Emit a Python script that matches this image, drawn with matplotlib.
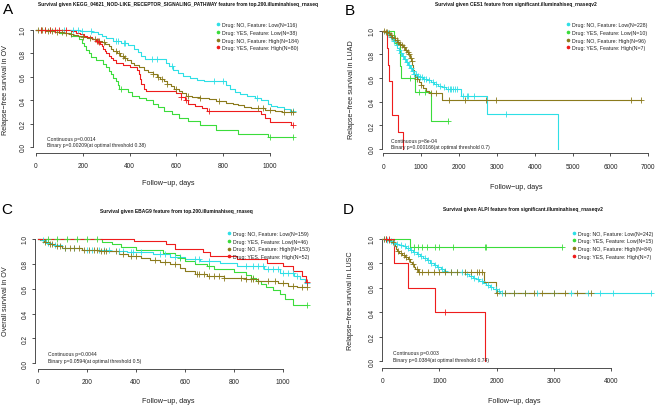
import numpy as np
import matplotlib
matplotlib.use("Agg")
import matplotlib.pyplot as plt
from matplotlib.lines import Line2D

plt.rcParams['font.family'] = ['Liberation Sans', 'DejaVu Sans']

W, H = 659, 406
COLORS = ["#2EDFE6", "#3BDC3B", "#8B7A1C", "#EE1C1C"]

# ---------------- Panel A data ----------------
A_cyan_t = [190, 240, 265, 280, 300, 330, 365, 395, 420, 435, 450, 465, 555, 570, 585, 605, 630, 660, 690, 720, 810, 830, 850, 870, 900, 935, 960, 990, 1005, 1030, 1060, 1085]
A_cyan_s = [0.99, 0.98, 0.965, 0.95, 0.93, 0.91, 0.89, 0.87, 0.84, 0.81, 0.78, 0.75, 0.72, 0.69, 0.66, 0.63, 0.61, 0.59, 0.575, 0.56, 0.53, 0.50, 0.47, 0.45, 0.44, 0.42, 0.40, 0.37, 0.35, 0.34, 0.325, 0.31]
A_cyan_c = [120, 160, 180, 195, 235, 340, 350, 375, 380, 495, 515, 580, 760, 800, 945, 1100]
A_green_t = [100, 150, 185, 195, 205, 215, 225, 235, 255, 285, 300, 310, 320, 330, 340, 350, 355, 395, 410, 440, 470, 500, 520, 545, 580, 610, 650, 700, 770, 865, 990]
A_green_s = [0.973, 0.946, 0.92, 0.89, 0.86, 0.83, 0.80, 0.77, 0.74, 0.71, 0.68, 0.65, 0.62, 0.59, 0.56, 0.53, 0.50, 0.47, 0.44, 0.42, 0.40, 0.37, 0.34, 0.31, 0.28, 0.25, 0.22, 0.19, 0.145, 0.115, 0.085]
A_green_c = [20, 40, 60, 365, 1000, 1100]
A_olive_t = [40, 60, 80, 100, 120, 140, 160, 180, 200, 220, 240, 260, 280, 295, 310, 320, 330, 345, 360, 375, 390, 405, 420, 440, 460, 480, 500, 515, 530, 545, 560, 575, 590, 610, 625, 640, 665, 700, 740, 770, 810, 840, 865, 890, 920, 980, 1020, 1050]
A_olive_s = [0.995, 0.99, 0.985, 0.98, 0.975, 0.97, 0.96, 0.95, 0.94, 0.93, 0.92, 0.91, 0.90, 0.88, 0.86, 0.84, 0.82, 0.80, 0.78, 0.76, 0.74, 0.72, 0.70, 0.68, 0.66, 0.64, 0.62, 0.60, 0.58, 0.56, 0.54, 0.52, 0.50, 0.48, 0.46, 0.44, 0.43, 0.42, 0.41, 0.39, 0.38, 0.37, 0.355, 0.34, 0.33, 0.32, 0.31, 0.30]
A_olive_c = [10, 25, 50, 70, 90, 110, 130, 150, 200, 230, 250, 265, 270, 290, 340, 355, 370, 380, 500, 520, 540, 560, 600, 650, 700, 780, 950, 970, 1000, 1060, 1090, 1100]
A_red_t = [150, 170, 190, 205, 220, 240, 255, 265, 275, 280, 285, 295, 300, 310, 320, 330, 340, 370, 400, 430, 440, 445, 450, 460, 470, 600, 620, 635, 650, 680, 710, 730, 960, 980, 1000, 1090]
A_red_s = [0.9875, 0.975, 0.9625, 0.95, 0.9375, 0.925, 0.91, 0.895, 0.88, 0.86, 0.84, 0.82, 0.80, 0.78, 0.76, 0.74, 0.72, 0.70, 0.68, 0.66, 0.62, 0.58, 0.54, 0.50, 0.48, 0.46, 0.43, 0.40, 0.37, 0.35, 0.33, 0.31, 0.28, 0.25, 0.21, 0.19]
A_red_c = [20, 40, 60, 80, 100, 130, 260, 270, 620, 640, 740, 1100]

# ---------------- Panel B data ----------------
B_cyan_t = [50, 90, 130, 170, 210, 250, 290, 330, 370, 410, 450, 500, 550, 600, 650, 700, 750, 800, 880, 960, 1050, 1150, 1250, 1350, 1450, 1550, 1650, 2050, 2750, 4620]
B_cyan_s = [0.99, 0.98, 0.965, 0.95, 0.935, 0.915, 0.895, 0.875, 0.855, 0.835, 0.81, 0.785, 0.76, 0.735, 0.71, 0.685, 0.66, 0.635, 0.62, 0.61, 0.595, 0.58, 0.565, 0.55, 0.535, 0.52, 0.505, 0.445, 0.297, 0.0]
B_cyan_c = [120, 200, 280, 350, 420, 480, 520, 560, 620, 680, 720, 780, 820, 870, 920, 980, 1020, 1080, 1120, 1200, 1300, 1400, 1500, 1600, 1700, 1750, 1800, 1850, 1900, 1950, 2100, 2200, 2250, 2400, 3250]
B_green_t = [270, 430, 445, 460, 850, 1250]
B_green_s = [0.9, 0.8, 0.7, 0.6, 0.48, 0.24]
B_green_c = [700, 950, 1100, 1700]
B_olive_t = [60, 120, 170, 220, 270, 320, 370, 420, 470, 520, 570, 620, 660, 700, 730, 760, 780, 800, 840, 880, 930, 990, 1050, 1120, 1200, 1550]
B_olive_s = [0.99, 0.98, 0.965, 0.95, 0.935, 0.92, 0.905, 0.89, 0.875, 0.86, 0.84, 0.82, 0.80, 0.77, 0.74, 0.71, 0.67, 0.63, 0.61, 0.59, 0.565, 0.54, 0.515, 0.49, 0.47, 0.41]
B_olive_c = [30, 80, 100, 150, 200, 240, 300, 350, 400, 450, 500, 550, 600, 640, 680, 720, 750, 900, 1000, 1250, 1400, 1735, 2150, 2700, 2970, 6540, 6820]
B_red_t = [90, 120, 150, 220, 400, 530]
B_red_s = [0.857, 0.714, 0.571, 0.286, 0.143, 0.0]
B_red_c = []

# ---------------- Panel C data ----------------
C_cyan_t = [15, 35, 60, 100, 180, 295, 363, 472, 540, 600, 663, 745, 814, 922, 990, 1045, 1070, 1090]
C_cyan_s = [0.99, 0.97, 0.955, 0.925, 0.915, 0.905, 0.893, 0.88, 0.855, 0.84, 0.826, 0.81, 0.785, 0.755, 0.725, 0.70, 0.68, 0.645]
C_cyan_c = [20, 40, 70, 110, 150, 200, 220, 250, 270, 290, 330, 350, 380, 390, 420, 500, 520, 560, 580, 640, 660, 700, 850, 880, 900, 920, 940, 960, 980, 1000, 1020, 1040, 1060, 1100]
C_green_t = [262, 302, 340, 400, 510, 560, 580, 600, 640, 690, 720, 800, 850, 870, 890, 910, 930, 960, 990, 1010, 1040]
C_green_s = [0.978, 0.957, 0.935, 0.913, 0.89, 0.868, 0.846, 0.824, 0.802, 0.78, 0.758, 0.735, 0.712, 0.688, 0.664, 0.64, 0.616, 0.592, 0.56, 0.52, 0.47]
C_green_c = [40, 80, 120, 160, 200, 240, 580, 700, 880, 1100]
C_olive_t = [10, 25, 45, 70, 100, 180, 250, 330, 370, 420, 460, 500, 540, 580, 600, 640, 690, 760, 850, 900, 980, 1020, 1060]
C_olive_s = [0.99, 0.975, 0.96, 0.945, 0.93, 0.915, 0.90, 0.88, 0.865, 0.85, 0.835, 0.815, 0.795, 0.765, 0.74, 0.72, 0.70, 0.685, 0.675, 0.665, 0.645, 0.625, 0.61]
C_olive_c = [30, 50, 60, 80, 90, 110, 130, 150, 170, 190, 210, 230, 240, 260, 270, 280, 320, 350, 380, 400, 480, 520, 560, 650, 660, 680, 700, 720, 740, 760, 830, 850, 870, 880, 900, 940, 970, 1000, 1040, 1080, 1100]
C_red_t = [395, 525, 560, 675, 705, 815, 935, 1000, 1040, 1080, 1095]
C_red_s = [0.98, 0.96, 0.92, 0.895, 0.86, 0.84, 0.81, 0.785, 0.745, 0.70, 0.655]
C_red_c = [1100]

# ---------------- Panel D data ----------------
D_cyan_t = [60, 120, 180, 240, 300, 360, 420, 480, 540, 600, 660, 720, 780, 840, 900, 960, 1020, 1080, 1140, 1450, 1520, 1580, 1640, 1700, 1760, 1820, 1880, 1940, 2000, 2060]
D_cyan_s = [0.99, 0.98, 0.97, 0.96, 0.95, 0.94, 0.925, 0.91, 0.895, 0.88, 0.865, 0.845, 0.825, 0.805, 0.785, 0.77, 0.755, 0.74, 0.728, 0.715, 0.70, 0.685, 0.67, 0.655, 0.64, 0.625, 0.61, 0.595, 0.578, 0.562]
D_cyan_c = [30, 90, 150, 200, 260, 330, 400, 450, 500, 560, 620, 680, 740, 800, 860, 920, 980, 1050, 1100, 1200, 1300, 1400, 1480, 1550, 1600, 1680, 1750, 1850, 1900, 1980, 2040, 2100, 2150, 2300, 2500, 2700, 3000, 3300, 3600, 3800, 4040, 4700]
D_green_t = [490]
D_green_s = [0.933]
D_green_c = [560, 630, 700, 780, 920, 1000, 1240, 1790, 1820, 3140]
D_olive_t = [80, 150, 200, 220, 240, 260, 300, 350, 400, 450, 490, 520, 550, 580, 620, 1780, 1980]
D_olive_s = [0.988, 0.976, 0.96, 0.94, 0.92, 0.90, 0.885, 0.87, 0.85, 0.835, 0.815, 0.795, 0.775, 0.755, 0.728, 0.646, 0.556]
D_olive_c = [30, 60, 120, 180, 270, 320, 380, 420, 470, 540, 600, 650, 700, 800, 900, 1000, 1100, 1200, 1300, 1450, 1550, 1650, 1700, 1750, 2000, 2150, 2300, 2500, 2650, 2800, 3000, 3200, 3400, 3650]
D_red_t = [200, 455, 920, 1790]
D_red_s = [0.80, 0.60, 0.40, 0.0]
D_red_c = [60, 120, 1100]

# ---------------- Text ----------------
titles = [
    "Survival given KEGG_04621_NOD-LIKE_RECEPTOR_SIGNALING_PATHWAY feature from top.200.illuminahiseq_rnaseq",
    "Survival given CES1 feature from significant.illuminahiseq_rnaseqv2",
    "Survival given EBAG9 feature from top.200.illuminahiseq_rnaseq",
    "Survival given ALPI feature from significant.illuminahiseq_rnaseqv2",
]
ylabels = ["Relapse\u2212free survival in OV", "Relapse\u2212free survival in LUAD",
           "Overall survival in OV", "Relapse\u2212free survival in LUSC"]
xlabel = "Follow\u2212up, days"
letters = ["A", "B", "C", "D"]
group_names = ["Drug: NO, Feature: Low", "Drug: YES, Feature: Low",
               "Drug: NO, Feature: High", "Drug: YES, Feature: High"]
A_n = [116, 38, 184, 80]
B_n = [228, 10, 96, 7]
C_n = [159, 46, 153, 52]
D_n = [242, 15, 84, 7]
A_p = ["Continuous p=0.0014", "Binary p=0.00209(at optimal threshold 0.38)"]
B_p = ["Continuous p=8e-04", "Binary p=0.000166(at optimal threshold 0.7)"]
C_p = ["Continuous p=0.0044", "Binary p=0.0594(at optimal threshold 0.5)"]
D_p = ["Continuous p=0.003", "Binary p=0.0384(at optimal threshold 0.74)"]
A_xticks = [0, 200, 400, 600, 800, 1000]
B_xticks = [0, 1000, 2000, 3000, 4000, 5000, 6000, 7000]
C_xticks = [0, 200, 400, 600, 800, 1000]
D_xticks = [0, 1000, 2000, 3000, 4000]
yticks = [0.0, 0.2, 0.4, 0.6, 0.8, 1.0]

panels = [
    dict(curves=[(A_cyan_t, A_cyan_s, A_cyan_c), (A_green_t, A_green_s, A_green_c),
                 (A_olive_t, A_olive_s, A_olive_c), (A_red_t, A_red_s, A_red_c)],
         n=A_n, p=A_p, xt=A_xticks,
         box=(33, 300, 24, 154), xmap=(36, 270, 1000), ymap=(31, 148),
         title=(178, 4.5), letter=(8, 10), ylab=(6, 90), xlab=(168, 184),
         leg=(219, 26.7, 6.9), ptxt=(46.7, 139.3, 6.4)),
    dict(curves=[(B_cyan_t, B_cyan_s, B_cyan_c), (B_green_t, B_green_s, B_green_c),
                 (B_olive_t, B_olive_s, B_olive_c), (B_red_t, B_red_s, B_red_c)],
         n=B_n, p=B_p, xt=B_xticks,
         box=(382.3, 656, 24, 154.3), xmap=(383.3, 648.3, 7000), ymap=(31.7, 150),
         title=(515.5, 4.5), letter=(350, 11), ylab=(351.7, 90), xlab=(516, 187.7),
         leg=(569, 26.7, 6.9), ptxt=(391, 141, 6.3)),
    dict(curves=[(C_cyan_t, C_cyan_s, C_cyan_c), (C_green_t, C_green_s, C_green_c),
                 (C_olive_t, C_olive_s, C_olive_c), (C_red_t, C_red_s, C_red_c)],
         n=C_n, p=C_p, xt=C_xticks,
         box=(35, 318, 232, 370), xmap=(37.7, 282.7, 1000), ymap=(240, 364.3),
         title=(176.7, 211.7), letter=(7, 210), ylab=(6, 301), xlab=(168, 401.7),
         leg=(230, 235.5, 7.2), ptxt=(48.3, 354.3, 7.4)),
    dict(curves=[(D_cyan_t, D_cyan_s, D_cyan_c), (D_green_t, D_green_s, D_green_c),
                 (D_olive_t, D_olive_s, D_olive_c), (D_red_t, D_red_s, D_red_c)],
         n=D_n, p=D_p, xt=D_xticks,
         box=(381.7, 656, 232, 369), xmap=(382.3, 611, 4000), ymap=(240, 362.3),
         title=(522.5, 209.5), letter=(348, 210.5), ylab=(350.7, 301), xlab=(514, 401.7),
         leg=(575, 235, 7.2), ptxt=(393.3, 353.3, 7.4)),
]


def fx(x):
    return x / W


def fy(y):
    return 1 - y / H


fig = plt.figure(figsize=(W / 100, H / 100), dpi=100)
fig.patch.set_facecolor("white")

AXCOL = "#333333"

for k, P in enumerate(panels):
    l, r, t, b = P["box"]
    ax = fig.add_axes([fx(l), fy(b), (r - l) / W, (b - t) / H])
    x0, xe, xv = P["xmap"]
    kx = (xe - x0) / xv
    y1, y0 = P["ymap"]
    ky = (y0 - y1)
    ax.set_xlim((l - x0) / kx, (r - x0) / kx)
    ax.set_ylim((y0 - b) / ky, (y0 - t) / ky)
    ax.patch.set_alpha(0)

    for (times, surv, cens), col in zip(P["curves"], COLORS):
        times = np.asarray(times, float)
        surv = np.asarray(surv, float)
        cens = np.asarray(cens, float)
        end = max(times.max(), cens.max() if len(cens) else 0)
        xs = np.concatenate([[0.0], times, [end]])
        ys = np.concatenate([[1.0], surv, [surv[-1]]])
        ax.step(xs, ys, where="post", color=col, lw=0.8, zorder=3)
        if len(cens):
            idx = np.searchsorted(times, cens, side="right") - 1
            cs = np.where(idx >= 0, surv[np.clip(idx, 0, None)], 1.0)
            ax.plot(cens, cs, ls="none", marker="+", ms=3.8, mew=0.6,
                    color=col, zorder=4)

    for side in ("top", "right"):
        ax.spines[side].set_visible(False)
    for side in ("left", "bottom"):
        ax.spines[side].set_color(AXCOL)
        ax.spines[side].set_linewidth(0.6)
    ax.spines["left"].set_bounds(0, 1)
    ax.spines["bottom"].set_bounds(P["xt"][0], P["xt"][-1])
    ax.set_xticks(P["xt"])
    ax.set_xticklabels([str(v) for v in P["xt"]])
    ax.set_yticks(yticks)
    ax.set_yticklabels(["%.1f" % v for v in yticks], rotation=90, va="center")
    ax.tick_params(axis="both", length=2.4, width=0.6, color=AXCOL,
                   labelsize=4.7, labelcolor="#222222")
    ax.tick_params(axis="x", pad=4.3)
    ax.tick_params(axis="y", pad=2.2)

    # legend
    handles = [Line2D([], [], ls="none", marker="o", ms=1.6, color=c) for c in COLORS]
    labels = ["%s(N=%d)" % (g, n) for g, n in zip(group_names, P["n"])]
    lx, ly, ldy = P["leg"]
    leg = ax.legend(handles, labels, loc="upper left", frameon=False,
                    fontsize=3.8, handlelength=0.5, handletextpad=0.45,
                    labelspacing=0.5, borderpad=0, borderaxespad=0,
                    bbox_to_anchor=(fx(lx - 2), fy(ly - 3.4)),
                    bbox_transform=fig.transFigure)
    for txt in leg.get_texts():
        txt.set_color("#222222")

    # p-value annotations
    px, py, pdy = P["ptxt"]
    for i, s in enumerate(P["p"]):
        fig.text(fx(px), fy(py + i * pdy), s, fontsize=3.6, color="#222222",
                 ha="left", va="center")

    tx, ty = P["title"]
    fig.text(fx(tx), fy(ty), titles[k], fontsize=3.5, fontweight="bold",
             ha="center", va="center", color="#111111")
    lx2, ly2 = P["letter"]
    fig.text(fx(lx2), fy(ly2), letters[k], fontsize=11, ha="center", va="center",
             color="black")
    yx, yy = P["ylab"]
    fig.text(fx(yx), fy(yy), ylabels[k], fontsize=5.2, rotation=90,
             ha="center", va="center", color="#222222")
    xx, xy = P["xlab"]
    fig.text(fx(xx), fy(xy), xlabel, fontsize=5.2, ha="center", va="center",
             color="#222222")

fig.savefig("out.png", dpi=100, facecolor="white")
